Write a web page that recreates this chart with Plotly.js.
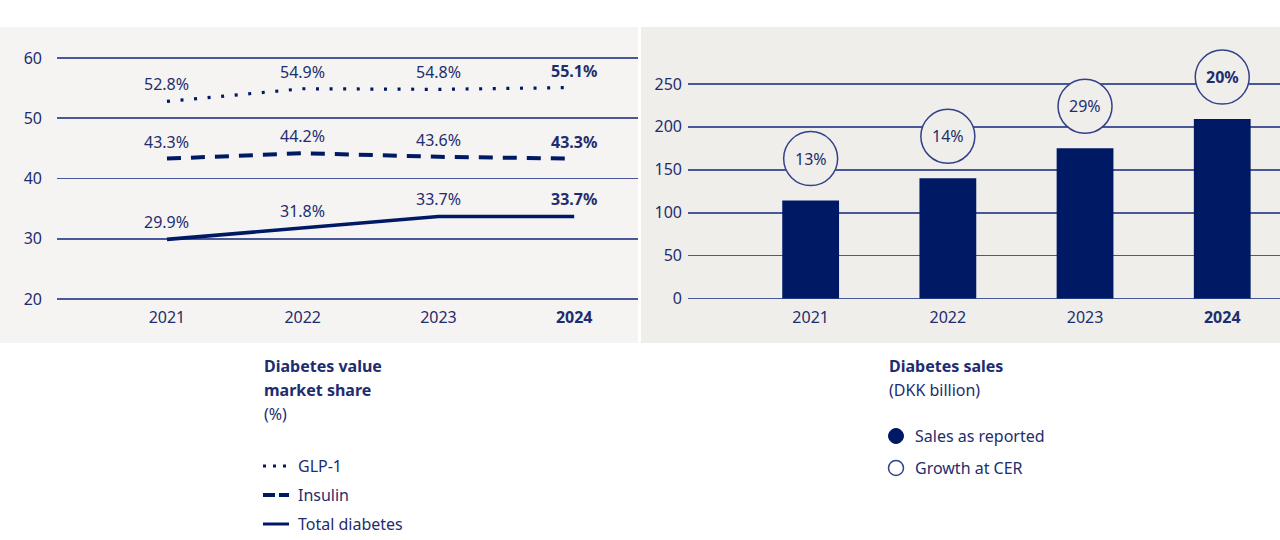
<!DOCTYPE html>
<html>
<head>
<meta charset="utf-8">
<script src="https://cdn.plot.ly/plotly-3.0.1.min.js"></script>
<style>
  html, body { margin: 0; padding: 0; background: #ffffff; }
  #chart { width: 1280px; height: 540px; }
</style>
</head>
<body>
<div id="chart"></div>
<script>
// ---- Data ----
const years = ['2021', '2022', '2023', '2024'];
const glp1 = [52.8, 54.9, 54.8, 55.1];
const insulin = [43.3, 44.2, 43.6, 43.3];
const totalDiabetes = [29.9, 31.8, 33.7, 33.7];
const sales = [114, 140, 175, 209];
const growthCER = [13, 14, 29, 20];
const leftTicks = [20, 30, 40, 50, 60];
const rightTicks = [0, 50, 100, 150, 200, 250];

// ---- Styles ----
const NAVY = '#001965';
const TEXT = '#1e2d6e';
const GRID = '#4b5898';
const FONT = 'Noto Sans, Open Sans, sans-serif';
const FS = 16;
const W = 1280, H = 540;
const px = x => x / W;
const py = y => 1 - y / H;
const yearText = years.map((y, i) => i === years.length - 1 ? '<b>' + y + '</b>' : y);

const traces = [
  { type: 'scatter', mode: 'lines', name: 'GLP-1', x: years, y: glp1, xaxis: 'x', yaxis: 'y',
    line: { color: NAVY, width: 3.2, dash: '3px,10.6px' }, hoverinfo: 'skip' },
  { type: 'scatter', mode: 'lines', name: 'Insulin', x: years, y: insulin, xaxis: 'x', yaxis: 'y',
    line: { color: NAVY, width: 4, dash: '14px,10px' }, hoverinfo: 'skip' },
  { type: 'scatter', mode: 'lines', name: 'Total diabetes', x: years, y: totalDiabetes, xaxis: 'x', yaxis: 'y',
    line: { color: NAVY, width: 3.6 }, hoverinfo: 'skip' },
  { type: 'bar', name: 'Sales as reported', x: years, y: sales, xaxis: 'x2', yaxis: 'y2',
    marker: { color: NAVY, line: { width: 0 } }, width: 0.414, hoverinfo: 'skip' }
];

const annotations = [];
function addLabels(series) {
  series.forEach((v, i) => {
    const t = v.toFixed(1) + '%';
    annotations.push({ xref: 'x', yref: 'y', x: i, y: v, yshift: 17, showarrow: false,
      text: i === series.length - 1 ? '<b>' + t + '</b>' : t,
      font: { family: FONT, size: FS, color: TEXT } });
  });
}
addLabels(glp1); addLabels(insulin); addLabels(totalDiabetes);

const shapes = [
  { type: 'rect', xref: 'paper', yref: 'paper', x0: 0, x1: px(638), y0: py(343), y1: py(27),
    fillcolor: '#f5f4f2', line: { width: 0 }, layer: 'below' },
  { type: 'rect', xref: 'paper', yref: 'paper', x0: px(641), x1: 1, y0: py(343), y1: py(27),
    fillcolor: '#efeeea', line: { width: 0 }, layer: 'below' }
];

growthCER.forEach((g, i) => {
  shapes.push({ type: 'circle', xref: 'x2', yref: 'y2', xsizemode: 'pixel', ysizemode: 'pixel',
    xanchor: i, yanchor: sales[i], x0: -27, x1: 27, y0: 15, y1: 69,
    fillcolor: '#efeeea', line: { color: '#33418a', width: 1.5 }, layer: 'above' });
  const t = g + '%';
  annotations.push({ xref: 'x2', yref: 'y2', x: i, y: sales[i], yshift: 42, showarrow: false,
    text: i === growthCER.length - 1 ? '<b>' + t + '</b>' : t,
    font: { family: FONT, size: FS, color: TEXT } });
});

// ---- Custom legends ----
shapes.push(
  { type: 'line', xref: 'paper', yref: 'paper', x0: px(263), x1: px(287), y0: py(466), y1: py(466),
    line: { color: NAVY, width: 3, dash: '3px,7px' } },
  { type: 'line', xref: 'paper', yref: 'paper', x0: px(263), x1: px(289), y0: py(495), y1: py(495),
    line: { color: NAVY, width: 4, dash: '12px,4px' } },
  { type: 'line', xref: 'paper', yref: 'paper', x0: px(263), x1: px(289), y0: py(524), y1: py(524),
    line: { color: NAVY, width: 3 } },
  { type: 'circle', xref: 'paper', yref: 'paper', x0: px(888.5), x1: px(903.5), y0: py(443.5), y1: py(428.5),
    fillcolor: NAVY, line: { color: NAVY, width: 1 } },
  { type: 'circle', xref: 'paper', yref: 'paper', x0: px(888.5), x1: px(903.5), y0: py(475.5), y1: py(460.5),
    fillcolor: '#ffffff', line: { color: '#33418a', width: 1.5 } }
);

function legendText(x, y, text) {
  annotations.push({ xref: 'paper', yref: 'paper', x: px(x), y: py(y), xanchor: 'left', yanchor: 'middle',
    showarrow: false, text: text, font: { family: FONT, size: FS, color: TEXT } });
}
legendText(262, 366, '<b>Diabetes value</b>');
legendText(262, 390, '<b>market share</b>');
legendText(262, 414, '(%)');
legendText(296, 466, 'GLP-1');
legendText(296, 495, 'Insulin');
legendText(296, 524, 'Total diabetes');
legendText(887, 366, '<b>Diabetes sales</b>');
legendText(887, 390, '(DKK billion)');
legendText(913, 436, 'Sales as reported');
legendText(913, 468, 'Growth at CER');

const tickFont = { family: FONT, size: FS, color: TEXT };

const layout = {
  width: W, height: H,
  margin: { l: 0, r: 0, t: 0, b: 0 },
  paper_bgcolor: '#ffffff',
  plot_bgcolor: 'rgba(0,0,0,0)',
  showlegend: false,
  font: { family: FONT, color: TEXT },
  xaxis: { domain: [px(57), px(638)], anchor: 'y', type: 'category', range: [-0.81, 3.47],
    tickvals: years, ticktext: yearText, showgrid: false, zeroline: false, showline: false,
    ticks: '', ticklabelstandoff: 5, tickfont: tickFont, fixedrange: true },
  yaxis: { domain: [py(300.8), py(56.2)], anchor: 'x', range: [19.7, 60.3],
    tickvals: leftTicks, showgrid: true, gridcolor: GRID, gridwidth: 1.8, zeroline: false,
    showline: false, ticks: '', ticklabelstandoff: 14, tickfont: tickFont, fixedrange: true },
  xaxis2: { domain: [px(688), 1], anchor: 'y2', type: 'category', range: [-0.894, 3.421],
    tickvals: years, ticktext: yearText, showgrid: false, zeroline: false, showline: false,
    ticks: '', ticklabelstandoff: 5, tickfont: tickFont, fixedrange: true },
  yaxis2: { domain: [py(300.6), py(41)], anchor: 'x2', range: [-2.5, 300],
    tickvals: rightTicks, showgrid: true, gridcolor: GRID, gridwidth: 1.8, zeroline: false,
    showline: false, ticks: '', ticklabelstandoff: 5, tickfont: tickFont, fixedrange: true },
  shapes: shapes,
  annotations: annotations
};

Plotly.newPlot('chart', traces, layout, { staticPlot: true, displayModeBar: false });
</script>
</body>
</html>
